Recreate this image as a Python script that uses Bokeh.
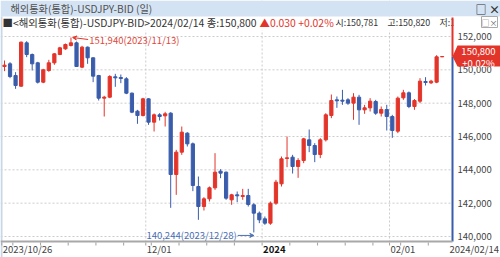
import numpy as np
import pandas as pd
from bokeh.plotting import figure
from bokeh.models import (Range1d, ColumnDataSource, Label, BoxAnnotation, PolyAnnotation,
                          Arrow, VeeHead, Span)
from bokeh.embed import file_html
from bokeh.resources import INLINE

# ---------------- data ----------------
dates = pd.bdate_range("2023-10-26", "2024-02-14")

open_ = [150200, 150360, 149660, 149020, 151620, 150920, 150420, 149260, 149960, 150420,
         150920, 151260, 151460, 151620, 150160, 151360, 150720, 149660, 148300, 148360,
         149580, 149540, 149460, 148600, 147520, 147260, 148260, 146860, 147300, 147240,
         147400, 143720, 145060, 146200, 145560, 143000, 141800, 142260, 142920, 143920,
         143860, 142200, 142500, 142400, 142460, 141900, 141400, 141060, 140800, 142000,
         143160, 144680, 144760, 144200, 144560, 145800, 145460, 144920, 145800, 147260,
         148200, 148180, 148200, 148000, 148360, 147600, 147720, 148100, 147400, 147620,
         147200, 146320, 148320, 148620, 147800, 148120, 149300, 149220, 149260, 150781]
high = [150560, 150460, 149860, 151700, 151720, 150980, 150480, 150060, 150600, 151000,
        151380, 151580, 151940, 151700, 151440, 151400, 150760, 149700, 148440, 149680,
        149760, 149720, 149560, 148640, 147600, 148320, 148300, 147380, 147400, 147480,
        147460, 145200, 146600, 146260, 145640, 143600, 142360, 143000, 145000, 144040,
        143900, 142560, 142700, 142860, 142860, 142000, 141500, 141200, 142100, 143400,
        144800, 146000, 144900, 144700, 145920, 146420, 145600, 145900, 147400, 148520,
        148400, 148800, 148300, 148600, 148500, 147900, 148300, 148200, 147800, 147900,
        147300, 148400, 148800, 148700, 148250, 149500, 149560, 149400, 150880, 150820]
low = [149920, 149500, 148860, 148980, 150760, 149960, 149180, 149200, 149880, 150300,
       150880, 151200, 151400, 150180, 150100, 150360, 149260, 148160, 147200, 148300,
       148980, 149200, 148540, 147400, 146760, 147200, 146700, 146300, 146960, 146600,
       141720, 142500, 144900, 145400, 142720, 141000, 141560, 142100, 142800, 143500,
       142200, 141900, 142060, 142200, 141800, 140244, 140800, 140700, 140700, 141900,
       143000, 144160, 143780, 143520, 144400, 145060, 144460, 144700, 145700, 147100,
       147720, 147900, 147900, 147000, 146700, 147360, 147500, 147300, 147200, 146360,
       145920, 146200, 148200, 147700, 147600, 148000, 149060, 149150, 149200, 150760]
close = [150280, 149600, 149060, 151660, 150920, 150360, 149260, 150000, 150420, 150960,
         151320, 151520, 151620, 150200, 151360, 150720, 149620, 148300, 148360, 149600,
         149520, 149480, 148600, 147460, 147260, 148260, 146860, 147300, 147200, 147360,
         143720, 145060, 146260, 145560, 143060, 141800, 142260, 142920, 143860, 143800,
         142300, 142500, 142440, 142460, 141920, 141400, 141000, 140800, 142000, 143260,
         144660, 144720, 144200, 144560, 145860, 145460, 144920, 145800, 147300, 148160,
         148140, 148120, 148000, 148360, 147600, 147720, 148120, 147400, 147620, 147200,
         146360, 148300, 148620, 147800, 148160, 149320, 149240, 149320, 150780, 150800]

y_ticks = [140000, 142000, 144000, 146000, 148000, 150000, 152000]
date_tick_dates = ["2023-10-26", "2023-12-01", "2024-01-01", "2024-02-01"]
date_tick_labels = ["2023/10/26", "12/01", "2024", "02/01"]
last_date_label = "2024/02/14"

title_text = "해외통화(통합)-USDJPY-BID (일)"
info_text = "■<해외통화(통합)-USDJPY-BID>2024/02/14 종:150,800"
change_text = "▲0.030 +0.02%"
ohl_texts = ["시:150,781", "고:150,820", "저:15"]
pct_text = "+0.02%"

# ---------------- style / layout ----------------
FONT = "Noto Sans CJK KR"
RED = "#e3342a"
BLUE = "#3a5dab"
GRID = "#cccccc"
AXIS_X = 452          # px, right price axis line
AXIS_Y = 241          # px from top, bottom date axis line
OHL_X = [335, 387, 439]

W, H = 500, 257
slot = 5.54           # px per trading day
ppx = 60.0            # price units per px
x0 = -4 / slot
y_top_val = 152000 + 36 * ppx

def ys(ytop):
    """canvas y from top -> screen units (from bottom of frame = canvas)"""
    return H - ytop

n = len(open_)
idx = np.arange(n)
o = np.array(open_); h = np.array(high); l = np.array(low); c = np.array(close)
colors = [RED if cc >= oo else BLUE for oo, cc in zip(o, c)]
src = ColumnDataSource(dict(x=idx, o=o, h=h, l=l, c=c,
                            top=np.maximum(o, c), bot=np.minimum(o, c), color=colors))

p = figure(width=W, height=H, output_backend="svg", toolbar_location=None,
           x_axis_type=None, y_axis_type=None,
           x_range=Range1d(x0, x0 + W / slot),
           y_range=Range1d(y_top_val - H * ppx, y_top_val),
           min_border=0, outline_line_color=None,
           background_fill_color="white", border_fill_color="white")

tick_idx = [int(dates.get_indexer([pd.Timestamp(d)], method="bfill")[0]) for d in date_tick_dates]

def box(left, right, top, bottom, color, lu="screen", ru="screen", tu="screen", bu="screen",
        level="annotation"):
    p.add_layout(BoxAnnotation(left=left, right=right, top=top, bottom=bottom,
                               left_units=lu, right_units=ru, top_units=tu, bottom_units=bu,
                               fill_color=color, fill_alpha=1, line_color=None, level=level))

def text(x, y, s, size="10px", color="#333333", xu="screen", yu="screen", **kw):
    p.add_layout(Label(x=x, y=y, x_units=xu, y_units=yu, text=s, text_baseline="middle",
                       text_font=FONT, text_font_size=size, text_color=color, **kw))

# grid lines (dotted)
for t in y_ticks:
    p.add_layout(Span(location=t, dimension="width", line_color=GRID, line_dash="2 2",
                      line_width=1, level="underlay"))
for i in tick_idx[1:]:
    p.add_layout(Span(location=i - 0.5, dimension="height", line_color=GRID, line_dash="2 2",
                      line_width=1, level="underlay"))

# cover areas outside the chart pane
box(AXIS_X, W, ys(0), ys(H), "white", level="underlay")
box(0, W, ys(AXIS_Y), ys(H), "white", level="underlay")
box(0, W, ys(16), ys(30), "white", level="underlay")
box(0, W, ys(0), ys(16), "#d4e3f3", level="underlay")
box(0, 2, ys(16), ys(H), "#c6d7e9", level="underlay")

# candles
p.segment(x0="x", y0="h", x1="x", y1="l", line_color="color", line_width=1, source=src)
p.vbar(x="x", width=0.58, top="top", bottom="bot", fill_color="color", line_color="color",
       line_width=1, source=src)

last = close[-1]

# header texts
text(10, ys(8), title_text, size="10.2px", color="#505050")
text(475, ys(8), "□ ×", size="11px", color="#333333", text_font_style="bold")
text(2, ys(21.5), info_text, size="10.4px")
text(259, ys(21.5), change_text, size="10.4px", color=RED)
for xx, s in zip(OHL_X, ohl_texts):
    text(xx, ys(21.5), s, size="8.9px")
box(AXIS_X + 1, 478, ys(16), ys(29), "white")
text(481, ys(21.5), "□×", size="8px", color="#666666", border_line_color="#aaaaaa",
     background_fill_color="white")

# price axis line: red above last close, blue below
box(AXIS_X - 1, AXIS_X + 1, last, ys(AXIS_Y), BLUE, tu="data")
box(AXIS_X - 1, AXIS_X + 1, ys(17), last, RED, bu="data")
for t in y_ticks:
    text(AXIS_X + 5, t, f"{t:,}", size="9.5px", color="#444444", yu="data")

# date axis line + ticks
box(0, AXIS_X, ys(AXIS_Y - 1), ys(AXIS_Y + 1), "#a8a8a8")
mondays = [i for i, d in enumerate(dates) if d.weekday() == 0]
for t in sorted(set(mondays + tick_idx)):
    box(t - 0.5 - 0.1, t - 0.5 + 0.1, ys(AXIS_Y + 1), ys(AXIS_Y + 4), "#a8a8a8",
        lu="data", ru="data")
for i, t in zip(tick_idx, date_tick_labels):
    bold = (t == "2024")
    text(i - 0.5, ys(248.5), t, size="9.5px", xu="data", x_offset=1,
         color="#111111" if bold else "#444444",
         text_font_style="bold" if bold else "normal")
text(AXIS_X - 3, ys(248.5), last_date_label, size="9.5px", color="#444444")

# current price tag
up, dn = 11 * ppx, 10 * ppx
p.add_layout(PolyAnnotation(xs=[AXIS_X, AXIS_X + 5, W, W, AXIS_X + 5],
                            ys=[last, last + up, last + up, last - dn, last - dn],
                            xs_units="screen", ys_units="data",
                            fill_color=RED, fill_alpha=1, line_color=None))
text(AXIS_X + 26, last, f"{last:,}", size="9.5px", color="white", yu="data",
     y_offset=5, text_align="center")
text(AXIS_X + 26, last, pct_text, size="9.5px", color="white", yu="data",
     y_offset=-6, text_align="center")

# max / min annotations
hi_i = int(np.argmax(h)); lo_i = int(np.argmin(l))
hi_txt = f"{h[hi_i]:,}({dates[hi_i]:%Y/%m/%d})"
lo_txt = f"{l[lo_i]:,}({dates[lo_i]:%Y/%m/%d})"
p.add_layout(Arrow(x_start=hi_i + 3.1, y_start=h[hi_i] - 2 * ppx, x_end=hi_i + 0.3,
                   y_end=h[hi_i], line_color=RED, line_width=1,
                   end=VeeHead(size=4, line_color=RED, fill_color=RED)))
text(hi_i + 3.1, h[hi_i] - 2 * ppx, hi_txt, size="9.5px", color="#e0473a",
     xu="data", yu="data", x_offset=1)
p.add_layout(Arrow(x_start=lo_i - 2.9, y_start=l[lo_i] - 3 * ppx, x_end=lo_i,
                   y_end=l[lo_i] - 3 * ppx, line_color="#4a6fb5", line_width=1,
                   end=VeeHead(size=4, line_color="#4a6fb5", fill_color="#4a6fb5")))
text(lo_i - 2.9, l[lo_i] - 3 * ppx, lo_txt, size="9.5px", color="#4a6fb5",
     xu="data", yu="data", x_offset=-1, text_align="right")

open("out.html", "w").write(file_html(p, INLINE))
